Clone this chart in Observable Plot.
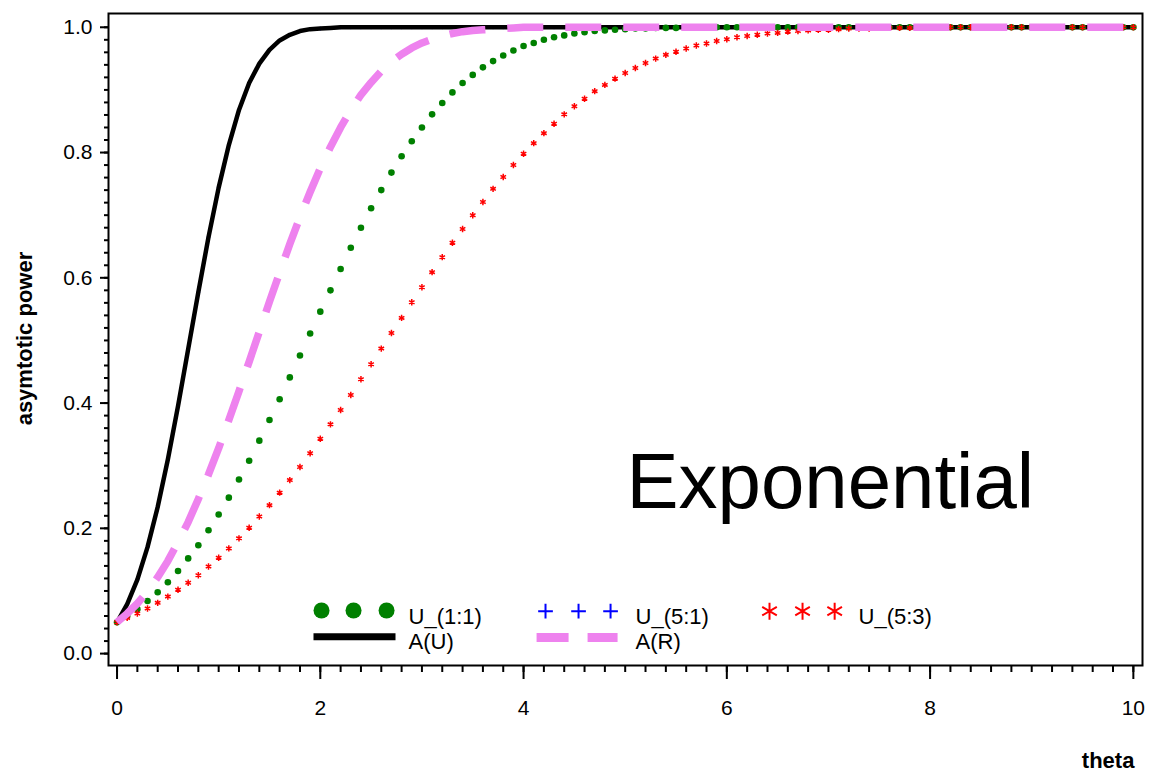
<!DOCTYPE html>
<html><head><meta charset="utf-8">
<script src="https://cdn.jsdelivr.net/npm/d3@7"></script>
<script src="https://cdn.jsdelivr.net/npm/@observablehq/plot@0.6"></script>
<style>body{margin:0;background:#fff}</style>
</head><body><div id="chart"></div>
<script>
// x values (theta)
const theta = [
  0.0,0.1,0.2,0.3,0.4,0.5,0.6,0.7,0.8,0.9,
  1.0,1.1,1.2,1.3,1.4,1.5,1.6,1.7,1.8,1.9,
  2.0,2.1,2.2,2.3,2.4,2.5,2.6,2.7,2.8,2.9,
  3.0,3.1,3.2,3.3,3.4,3.5,3.6,3.7,3.8,3.9,
  4.0,4.1,4.2,4.3,4.4,4.5,4.6,4.7,4.8,4.9,
  5.0,5.1,5.2,5.3,5.4,5.5,5.6,5.7,5.8,5.9,
  6.0,6.1,6.2,6.3,6.4,6.5,6.6,6.7,6.8,6.9,
  7.0,7.1,7.2,7.3,7.4,7.5,7.6,7.7,7.8,7.9,
  8.0,8.1,8.2,8.3,8.4,8.5,8.6,8.7,8.8,8.9,
  9.0,9.1,9.2,9.3,9.4,9.5,9.6,9.7,9.8,9.9,
  10.0
];
// U_(1:1)
const powerU11 = [
  0.050,0.060,0.071,0.084,0.098,0.114,0.132,0.152,0.173,0.197,
  0.222,0.249,0.278,0.308,0.340,0.373,0.406,0.441,0.476,0.511,
  0.546,0.580,0.614,0.648,0.680,0.711,0.740,0.768,0.794,0.818,
  0.840,0.861,0.879,0.896,0.911,0.924,0.936,0.946,0.955,0.963,
  0.970,0.975,0.980,0.984,0.987,0.990,0.992,0.994,0.995,0.996,
  0.997,0.998,0.998,0.999,0.999,0.999,1,1,1,1,
  1,1,1,1,1,1,1,1,1,1,
  1,1,1,1,1,1,1,1,1,1,
  1,1,1,1,1,1,1,1,1,1,
  1,1,1,1,1,1,1,1,1,1,
  1
];
// U_(5:1)
const powerU51 = [
  0.050,0.079,0.118,0.170,0.234,0.310,0.395,0.486,0.577,0.665,
  0.744,0.812,0.868,0.911,0.942,0.964,0.979,0.988,0.994,0.997,
  0.998,0.999,1,1,1,1,1,1,1,1,
  1,1,1,1,1,1,1,1,1,1,
  1,1,1,1,1,1,1,1,1,1,
  1,1,1,1,1,1,1,1,1,1,
  1,1,1,1,1,1,1,1,1,1,
  1,1,1,1,1,1,1,1,1,1,
  1,1,1,1,1,1,1,1,1,1,
  1,1,1,1,1,1,1,1,1,1,
  1
];
// U_(5:3)
const powerU53 = [
  0.050,0.057,0.064,0.072,0.081,0.091,0.102,0.113,0.125,0.139,
  0.153,0.168,0.184,0.201,0.219,0.237,0.257,0.277,0.298,0.320,
  0.343,0.366,0.389,0.413,0.438,0.462,0.487,0.512,0.536,0.561,
  0.585,0.609,0.633,0.656,0.678,0.700,0.721,0.742,0.761,0.780,
  0.798,0.815,0.831,0.846,0.861,0.874,0.886,0.898,0.908,0.918,
  0.927,0.935,0.943,0.950,0.956,0.961,0.966,0.971,0.974,0.978,
  0.981,0.984,0.986,0.988,0.990,0.991,0.993,0.994,0.995,0.996,
  0.996,0.997,0.998,0.998,0.998,0.999,0.999,0.999,0.999,1,
  1,1,1,1,1,1,1,1,1,1,
  1,1,1,1,1,1,1,1,1,1,
  1
];
// A(U)
const powerAU = [
  0.050,0.079,0.118,0.170,0.234,0.310,0.395,0.486,0.577,0.665,
  0.744,0.812,0.868,0.911,0.942,0.964,0.979,0.988,0.994,0.997,
  0.998,0.999,1,1,1,1,1,1,1,1,
  1,1,1,1,1,1,1,1,1,1,
  1,1,1,1,1,1,1,1,1,1,
  1,1,1,1,1,1,1,1,1,1,
  1,1,1,1,1,1,1,1,1,1,
  1,1,1,1,1,1,1,1,1,1,
  1,1,1,1,1,1,1,1,1,1,
  1,1,1,1,1,1,1,1,1,1,
  1
];
// A(R)
const powerAR = [
  0.050,0.064,0.080,0.099,0.122,0.148,0.178,0.210,0.247,0.286,
  0.328,0.373,0.419,0.466,0.514,0.562,0.608,0.654,0.697,0.737,
  0.775,0.809,0.840,0.868,0.892,0.912,0.930,0.945,0.957,0.967,
  0.975,0.981,0.986,0.990,0.993,0.995,0.996,0.997,0.998,0.999,
  1,1,1,1,1,1,1,1,1,1,
  1,1,1,1,1,1,1,1,1,1,
  1,1,1,1,1,1,1,1,1,1,
  1,1,1,1,1,1,1,1,1,1,
  1,1,1,1,1,1,1,1,1,1,
  1,1,1,1,1,1,1,1,1,1,
  1
];
const seriesNames = ["U_(1:1)", "U_(5:1)", "U_(5:3)", "A(U)", "A(R)"];
const xTicks = [0, 2, 4, 6, 8, 10];
const xTickLabels = ["0", "2", "4", "6", "8", "10"];
const yTicks = [0, 0.2, 0.4, 0.6, 0.8, 1.0];
const yTickLabels = ["0.0", "0.2", "0.4", "0.6", "0.8", "1.0"];
const xLabel = "theta";
const yLabel = "asymtotic power";
const annotation = "Exponential";

const rows = theta.map((t, i) => ({
  theta: t, U11: powerU11[i], U51: powerU51[i], U53: powerU53[i], AU: powerAU[i], AR: powerAR[i]
}));
const xMinor = d3.range(0, 10.001, 0.2);
const yMinor = d3.range(0, 1.0001, 0.02);

const legendRow1 = 0.0683, legendRow2 = 0.0268, textRow1 = 0.0592, textRow2 = 0.0188;

const chart = Plot.plot({
  width: 1152, height: 774,
  marginLeft: 108, marginRight: 10, marginTop: 13, marginBottom: 109,
  x: {domain: [-0.084, 10.09]},
  y: {domain: [-0.019, 1.022]},
  style: {fontFamily: "'Liberation Sans', Arial, sans-serif", background: "white", color: "black"},
  marks: [
    Plot.axisX(xMinor, {tickSize: 7, tickFormat: () => "", label: null, strokeWidth: 2}),
    Plot.axisX(xTicks, {tickSize: 14, tickPadding: 21, fontSize: 21, label: null, strokeWidth: 2,
      tickFormat: d => xTickLabels[xTicks.indexOf(d)]}),
    Plot.axisY(yMinor, {tickSize: 4, tickFormat: () => "", label: null, strokeWidth: 2}),
    Plot.axisY(yTicks, {tickSize: 8, tickPadding: 8, fontSize: 21, label: null, strokeWidth: 2,
      tickFormat: d => yTickLabels[yTicks.indexOf(d)]}),
    // series
    Plot.dot(rows, {x: "theta", y: "U51", symbol: "plus", r: 1.3, stroke: "blue", strokeWidth: 1}),
    Plot.line(rows, {x: "theta", y: "AU", stroke: "black", strokeWidth: 4.5}),
    Plot.dot(rows, {x: "theta", y: "U11", r: 3.3, fill: "green", stroke: null}),
    Plot.dot(rows, {x: "theta", y: "U53", symbol: "asterisk", r: 3, stroke: "red", strokeWidth: 1.5}),
    Plot.line(rows, {x: "theta", y: "AR", stroke: "violet", strokeWidth: 7.5, strokeDasharray: "36,22", strokeLinecap: "butt"}),
    // annotation
    Plot.text([annotation], {x: 5.013, y: 0.2716, text: d => d, fontSize: 78, textAnchor: "start", fill: "black"}),
    // legend
    Plot.dot([2.012, 2.327, 2.652], {x: d => d, y: legendRow1 + 0.0005, r: 8, fill: "green", stroke: null}),
    Plot.dot([4.216, 4.541, 4.856], {x: d => d, y: legendRow1 - 0.0006, symbol: "plus", r: 4.8, stroke: "blue", strokeWidth: 2}),
    Plot.dot([6.420, 6.745, 7.061], {x: d => d, y: legendRow1 - 0.0006, symbol: "asterisk", r: 8, stroke: "red", strokeWidth: 2}),
    Plot.line([[1.933, legendRow2], [2.740, legendRow2]], {stroke: "black", strokeWidth: 7, strokeLinecap: "butt"}),
    Plot.line([[4.128, legendRow2 - 0.001], [4.925, legendRow2 - 0.001]], {stroke: "violet", strokeWidth: 9, strokeDasharray: "32,19", strokeLinecap: "butt"}),
    Plot.text(seriesNames, {
      x: (d, i) => [2.868, 5.102, 7.296, 2.868, 5.102][i],
      y: (d, i) => [textRow1, textRow1, textRow1, textRow2, textRow2][i],
      text: d => d, fontSize: 22, textAnchor: "start", fill: "black"
    }),
    // axis titles
    Plot.text([xLabel], {x: 10.01, y: -0.172, text: d => d, fontSize: 22, fontWeight: "bold", textAnchor: "end", fill: "black"}),
    Plot.text([yLabel], {x: -0.91, y: 0.503, text: d => d, fontSize: 22, fontWeight: "bold", rotate: -90, fill: "black"}),
    Plot.frame({stroke: "black", strokeWidth: 2})
  ]
});
document.getElementById("chart").appendChild(chart);
</script>
</body></html>
